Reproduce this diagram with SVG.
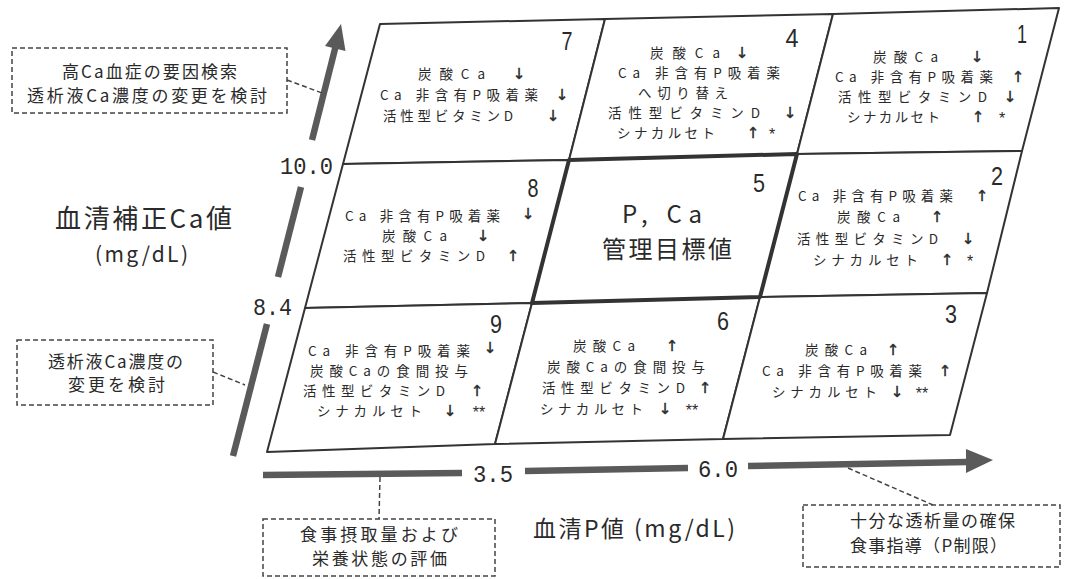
<svg xmlns="http://www.w3.org/2000/svg" width="1067" height="579" viewBox="0 0 1067 579">
<style>
text{font-family:"Noto Sans CJK JP","Liberation Sans",sans-serif;fill:#2a2a2a}
.t{font-size:13.5px}
.a{font-size:15px;text-anchor:middle;font-family:"DejaVu Sans","Liberation Sans",sans-serif;stroke:#2a2a2a;stroke-width:0.4}
.s{font-size:16px;text-anchor:middle;font-family:"Liberation Sans",sans-serif}
.n{font-size:26px;font-family:"Liberation Sans",sans-serif;text-anchor:middle}
.v{font-size:24px;font-family:"Liberation Mono","Liberation Sans",monospace}
.c{font-size:17px}
.big{font-size:24px}
.cell{fill:#fff;stroke:#333;stroke-width:2;stroke-linejoin:round}
.cell5{fill:#fff;stroke:#333;stroke-width:4;stroke-linejoin:round}
.box{fill:#fff;stroke:#444;stroke-width:1.5;stroke-dasharray:5 3}
.lead{fill:none;stroke:#444;stroke-width:1.5;stroke-dasharray:5 3}
.ax{fill:none;stroke:#5a5a5a;stroke-width:6.5}
.head{fill:#5a5a5a}
</style>
<rect width="1067" height="579" fill="#fff"/>

<g id="axis-ca">
<line class="ax" x1="233" y1="456" x2="267" y2="324"/>
<line class="ax" x1="278" y1="277" x2="301" y2="187"/>
<line class="ax" x1="312" y1="140" x2="336" y2="45"/>
<polygon class="head" points="341,24 345.5,51 325,46"/>
</g>
<g id="axis-p">
<line class="ax" x1="263" y1="475" x2="462" y2="473" stroke-width="7"/>
<line class="ax" x1="525" y1="471" x2="688" y2="468" stroke-width="7"/>
<line class="ax" x1="748" y1="466" x2="968" y2="462" stroke-width="7"/>
<polygon class="head" points="993,460 966,449 966,473"/>
</g>

<g id="axis-labels">
<text class="v" x="280" y="174" textLength="53" lengthAdjust="spacingAndGlyphs">10.0</text>
<text class="v" x="253" y="315" textLength="39" lengthAdjust="spacingAndGlyphs">8.4</text>
<text class="v" x="473" y="482" textLength="40" lengthAdjust="spacingAndGlyphs">3.5</text>
<text class="v" x="698" y="477" textLength="40" lengthAdjust="spacingAndGlyphs">6.0</text>
<text x="55" y="228" font-size="26" textLength="177" lengthAdjust="spacing">血清補正Ca値</text>
<text x="95" y="262" font-size="21" textLength="93" lengthAdjust="spacing">(mg/dL)</text>
<text x="533" y="537" font-size="23" textLength="202" lengthAdjust="spacing">血清P値 (mg/dL)</text>
</g>

<g id="cell7">
<polygon class="cell" points="380,24 605,19 569,160 343,164"/>
<text class="n" x="567" y="50" textLength="11" lengthAdjust="spacingAndGlyphs">7</text>
<text class="t" x="418" y="79" textLength="67" lengthAdjust="spacing">炭酸Ca</text><text class="a" x="519" y="79">↓</text>
<text class="t" x="380" y="100" textLength="158" lengthAdjust="spacing">Ca 非含有P吸着薬</text><text class="a" x="562" y="100">↓</text>
<text class="t" x="383" y="121" textLength="130" lengthAdjust="spacing">活性型ビタミンD</text><text class="a" x="553" y="121">↓</text>
</g>

<g id="cell4">
<polygon class="cell" points="605,19 833,14 797,154 569,160"/>
<text class="n" x="792" y="47" textLength="13" lengthAdjust="spacingAndGlyphs">4</text>
<text class="t" x="650" y="58" textLength="70" lengthAdjust="spacing">炭酸Ca</text><text class="a" x="742" y="58">↓</text>
<text class="t" x="618" y="78" textLength="162" lengthAdjust="spacing">Ca 非含有P吸着薬</text>
<text class="t" x="638" y="98" textLength="90" lengthAdjust="spacing">へ切り替え</text>
<text class="t" x="608" y="118" textLength="152" lengthAdjust="spacing">活性型ビタミンD</text><text class="a" x="790" y="118">↓</text>
<text class="t" x="617" y="138" textLength="98" lengthAdjust="spacing">シナカルセト</text><text class="a" x="753" y="138">↑</text><text class="s" x="772" y="140">*</text>
</g>

<g id="cell1">
<polygon class="cell" points="833,14 1059,8 1022,151 797,154"/>
<text class="n" x="1022" y="43" textLength="10" lengthAdjust="spacingAndGlyphs">1</text>
<text class="t" x="873" y="62" textLength="65" lengthAdjust="spacing">炭酸Ca</text><text class="a" x="977" y="62">↓</text>
<text class="t" x="835" y="82" textLength="158" lengthAdjust="spacing">Ca 非含有P吸着薬</text><text class="a" x="1018" y="82">↑</text>
<text class="t" x="838" y="102" textLength="149" lengthAdjust="spacing">活性型ビタミンD</text><text class="a" x="1010" y="102">↓</text>
<text class="t" x="847" y="122" textLength="93" lengthAdjust="spacing">シナカルセト</text><text class="a" x="978" y="122">↑</text><text class="s" x="1002" y="124">*</text>
</g>

<g id="cell8">
<polygon class="cell" points="343,164 569,160 532,303 305,308"/>
<text class="n" x="533" y="197" textLength="11" lengthAdjust="spacingAndGlyphs">8</text>
<text class="t" x="345" y="221" textLength="155" lengthAdjust="spacing">Ca 非含有P吸着薬</text><text class="a" x="528" y="219">↓</text>
<text class="t" x="382" y="241" textLength="65" lengthAdjust="spacing">炭酸Ca</text><text class="a" x="483" y="241">↓</text>
<text class="t" x="343" y="261" textLength="142" lengthAdjust="spacing">活性型ビタミンD</text><text class="a" x="513" y="261">↑</text>
</g>

<g id="cell2">
<polygon class="cell" points="797,154 1022,151 987,293 760,297"/>
<text class="n" x="997" y="185" textLength="12" lengthAdjust="spacingAndGlyphs">2</text>
<text class="t" x="798" y="201" textLength="155" lengthAdjust="spacing">Ca 非含有P吸着薬</text><text class="a" x="982" y="201">↑</text>
<text class="t" x="837" y="222" textLength="63" lengthAdjust="spacing">炭酸Ca</text><text class="a" x="937" y="222">↑</text>
<text class="t" x="797" y="244" textLength="141" lengthAdjust="spacing">活性型ビタミンD</text><text class="a" x="968" y="244">↓</text>
<text class="t" x="813" y="265" textLength="105" lengthAdjust="spacing">シナカルセト</text><text class="a" x="947" y="265">↑</text><text class="s" x="970" y="267">*</text>
</g>

<g id="cell9">
<polygon class="cell" points="305,308 532,303 495,444 267,452"/>
<text class="n" x="496" y="333" textLength="12" lengthAdjust="spacingAndGlyphs">9</text>
<text class="t" x="308" y="356" textLength="162" lengthAdjust="spacing">Ca 非含有P吸着薬</text><text class="a" x="490" y="353">↓</text>
<text class="t" x="310" y="376" textLength="158" lengthAdjust="spacing">炭酸Caの食間投与</text>
<text class="t" x="303" y="396" textLength="142" lengthAdjust="spacing">活性型ビタミンD</text><text class="a" x="477" y="396">↑</text>
<text class="t" x="317" y="416" textLength="105" lengthAdjust="spacing">シナカルセト</text><text class="a" x="450" y="416">↓</text><text class="s" x="479" y="418">**</text>
</g>

<g id="cell6">
<polygon class="cell" points="532,303 760,297 723,439 495,444"/>
<text class="n" x="723" y="330" textLength="12" lengthAdjust="spacingAndGlyphs">6</text>
<text class="t" x="573" y="351" textLength="62" lengthAdjust="spacing">炭酸Ca</text><text class="a" x="672" y="351">↑</text>
<text class="t" x="547" y="372" textLength="158" lengthAdjust="spacing">炭酸Caの食間投与</text>
<text class="t" x="542" y="393" textLength="143" lengthAdjust="spacing">活性型ビタミンD</text><text class="a" x="705" y="393">↑</text>
<text class="t" x="540" y="414" textLength="103" lengthAdjust="spacing">シナカルセト</text><text class="a" x="665" y="414">↓</text><text class="s" x="692" y="416">**</text>
</g>

<g id="cell3">
<polygon class="cell" points="760,297 987,293 950,435 723,439"/>
<text class="n" x="951" y="323" textLength="12" lengthAdjust="spacingAndGlyphs">3</text>
<text class="t" x="805" y="355" textLength="62" lengthAdjust="spacing">炭酸Ca</text><text class="a" x="893" y="355">↑</text>
<text class="t" x="762" y="376" textLength="160" lengthAdjust="spacing">Ca 非含有P吸着薬</text><text class="a" x="945" y="376">↑</text>
<text class="t" x="772" y="397" textLength="105" lengthAdjust="spacing">シナカルセト</text><text class="a" x="897" y="397">↓</text><text class="s" x="922" y="399">**</text>
</g>

<g id="cell5">
<polygon class="cell5" points="569,160 797,154 760,297 532,303"/>
<text class="n" x="759" y="192" textLength="12" lengthAdjust="spacingAndGlyphs">5</text>
<text class="big" x="622" y="223" textLength="80" lengthAdjust="spacing">P, Ca</text>
<text class="big" x="602" y="258" textLength="130" lengthAdjust="spacing">管理目標値</text>
</g>

<g id="connectors">
<line class="lead" x1="287" y1="80" x2="322" y2="93"/>
<line class="lead" x1="213" y1="372" x2="245" y2="385"/>
<line class="lead" x1="380" y1="477" x2="379" y2="519"/>
<line class="lead" x1="848" y1="468" x2="933" y2="505"/>
</g>

<g id="note-hyperca">
<rect class="box" x="12" y="48" width="275" height="65"/>
<text class="c" x="62" y="78" textLength="175" lengthAdjust="spacing">高Ca血症の要因検索</text>
<text class="c" x="27" y="102" textLength="240" lengthAdjust="spacing">透析液Ca濃度の変更を検討</text>
</g>
<g id="note-dialysate">
<rect class="box" x="17" y="340" width="196" height="65"/>
<text class="c" x="48" y="368" textLength="135" lengthAdjust="spacing">透析液Ca濃度の</text>
<text class="c" x="68" y="391" textLength="97" lengthAdjust="spacing">変更を検討</text>
</g>
<g id="note-diet">
<rect class="box" x="263" y="519" width="232" height="57"/>
<text class="c" x="300" y="541" textLength="158" lengthAdjust="spacing">食事摂取量および</text>
<text class="c" x="312" y="565" textLength="135" lengthAdjust="spacing">栄養状態の評価</text>
</g>
<g id="note-dialysis">
<rect class="box" x="803" y="505" width="257" height="62"/>
<text class="c" x="850" y="527" textLength="165" lengthAdjust="spacing">十分な透析量の確保</text>
<text class="c" x="850" y="552" textLength="157" lengthAdjust="spacing">食事指導（P制限）</text>
</g>
</svg>
